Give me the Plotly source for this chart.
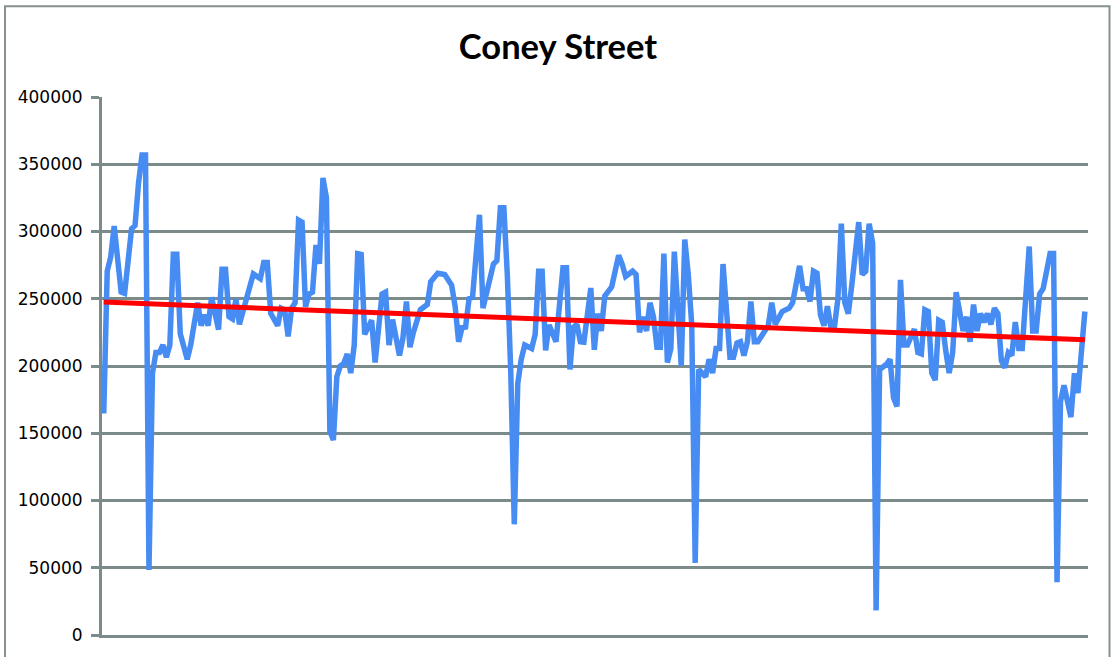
import plotly.graph_objects as go

# Week index (x) and weekly footfall (y)
weeks = [0, 1, 2, 3, 5, 6, 8, 9, 10, 11, 12, 13, 14, 15, 16, 17, 18, 19, 20, 21, 22, 24, 25, 27, 28, 29, 30, 31, 33, 34, 35, 36, 37, 38, 39, 41, 42, 43, 45, 46, 47, 48, 50, 51, 52, 53, 54, 55, 56, 57, 58, 59, 60, 61, 62, 63, 64, 65, 66, 67, 68, 69, 70, 71, 72, 73, 74, 75, 77, 78, 80, 81, 82, 83, 85, 86, 87, 88, 89, 90, 91, 93, 94, 96, 97, 98, 100, 101, 102, 103, 104, 105, 106, 108, 109, 110, 112, 113, 114, 115, 116, 117, 118, 119, 120, 121, 123, 124, 125, 126, 127, 128, 130, 132, 133, 134, 135, 136, 137, 138, 140, 141, 142, 143, 144, 146, 148, 149, 150, 152, 153, 154, 155, 156, 157, 158, 159, 160, 161, 162, 163, 164, 166, 167, 168, 169, 170, 171, 172, 173, 174, 175, 176, 177, 178, 180, 181, 182, 183, 184, 185, 186, 187, 188, 190, 191, 192, 193, 195, 197, 198, 200, 201, 202, 203, 204, 205, 206, 207, 208, 209, 210, 211, 212, 213, 214, 215, 216, 217, 218, 219, 220, 221, 222, 223, 225, 226, 227, 228, 229, 230, 231, 233, 234, 235, 236, 237, 238, 239, 240, 241, 242, 243, 244, 245, 246, 247, 248, 249, 250, 251, 252, 253, 254, 255, 256, 257, 258, 259, 260, 261, 262, 263, 264, 266, 267, 268, 269, 270, 272, 273, 274, 275, 276, 278, 279, 280, 282]
footfall = [164700, 270500, 281000, 304000, 255000, 254000, 302000, 304500, 336000, 356800, 356800, 48400, 194700, 210000, 210000, 215600, 206500, 215600, 283000, 283000, 224000, 205000, 215600, 247000, 230000, 238000, 230000, 251000, 227000, 272000, 272000, 236600, 235000, 249600, 231000, 249600, 258000, 268500, 265000, 277000, 277000, 239000, 230000, 243000, 241800, 222000, 243000, 247000, 308500, 307000, 244000, 253500, 254900, 290000, 276000, 339800, 325000, 151600, 145000, 192000, 200000, 202000, 209000, 194700, 215600, 283600, 283000, 223500, 234000, 202600, 253500, 254900, 215600, 234500, 207800, 221000, 248000, 214000, 225000, 234000, 241800, 245700, 262700, 269000, 268000, 268000, 260000, 244400, 218000, 228700, 229000, 250000, 251000, 312400, 243000, 254900, 275800, 278400, 317600, 317600, 268000, 194700, 82300, 187000, 205000, 215600, 213000, 223500, 270500, 270500, 211700, 230500, 218000, 273000, 273000, 197400, 228700, 231000, 218000, 217700, 258000, 212000, 239000, 226000, 252000, 258800, 282300, 275800, 266600, 270500, 268000, 225000, 236600, 226000, 247000, 236600, 214000, 214000, 283600, 202600, 213000, 285000, 200000, 294000, 268000, 231000, 53600, 197400, 195000, 192000, 205000, 194700, 213000, 213000, 275800, 206500, 206500, 217000, 218000, 207800, 218000, 248000, 218000, 218000, 226000, 230000, 247000, 231000, 240500, 243000, 247000, 274500, 257500, 257500, 248000, 270500, 269000, 237900, 230000, 244400, 228700, 228700, 249600, 305800, 247000, 239000, 260000, 288800, 307000, 268000, 270500, 305800, 291500, 18300, 197400, 201300, 205000, 176400, 170000, 264000, 215600, 215600, 227400, 210000, 209000, 241800, 240500, 194700, 189500, 234000, 232600, 211700, 194700, 210000, 254900, 240500, 226000, 236600, 218000, 245700, 226000, 239000, 232600, 239000, 231000, 243000, 239000, 204000, 198700, 210000, 207800, 232600, 213000, 213000, 288800, 226000, 226000, 253500, 257500, 283600, 283600, 39200, 173800, 185600, 162000, 194700, 180000, 240500]

# Linear trend line end points
trend_weeks = [0, 282]
trend_values = [247500, 219500]

y_ticks = [0, 50000, 100000, 150000, 200000, 250000, 300000, 350000, 400000]
y_tick_labels = ["0", "50000", "100000", "150000", "200000", "250000", "300000", "350000", "400000"]

GRID = "#7b8b89"

fig = go.Figure()
fig.add_trace(go.Scatter(x=weeks, y=footfall, mode="lines",
                         line=dict(color="#468cf2", width=5.5), showlegend=False,
                         hoverinfo="skip"))
fig.add_trace(go.Scatter(x=trend_weeks, y=trend_values, mode="lines",
                         line=dict(color="#ff0000", width=5), showlegend=False,
                         hoverinfo="skip"))

W, H = 1111, 657
L, R, T, B = 102, 23, 97, 20
pw, ph = W - L - R, H - T - B

fig.update_layout(
    width=W, height=H,
    margin=dict(l=L, r=R, t=T, b=B, pad=0),
    paper_bgcolor="white", plot_bgcolor="white",
    title=dict(text="<b>Coney Street</b>", x=558 / W, xanchor="center",
               y=1 - 47 / H, yanchor="middle", yref="container",
               font=dict(family="Lato", size=34.5, color="black")),
    xaxis=dict(range=[-0.5, 282.9], showgrid=False, zeroline=False,
               showline=True, linecolor=GRID, linewidth=3,
               showticklabels=False, ticks=""),
    yaxis=dict(range=[0, 400000], tickvals=y_ticks, ticktext=y_tick_labels,
               showgrid=True, gridcolor=GRID, gridwidth=3, zeroline=False,
               showline=True, linecolor=GRID, linewidth=3,
               ticks="outside", ticklen=8, tickwidth=3, tickcolor=GRID,
               ticklabelstandoff=5,
               tickfont=dict(family="DejaVu Sans", size=17, color="black")),
    shapes=[dict(type="rect", xref="paper", yref="paper",
                 x0=(5 - L) / pw, x1=(1109.5 - L) / pw,
                 y0=(H - T - 720) / ph, y1=(H - B - 6) / ph,
                 line=dict(color="#86918f", width=2), fillcolor="rgba(0,0,0,0)",
                 layer="below")],
)

fig.write_html("out.html", config={"displayModeBar": False},
               post_script="document.body.style.margin='0';document.body.style.overflow='hidden';")
